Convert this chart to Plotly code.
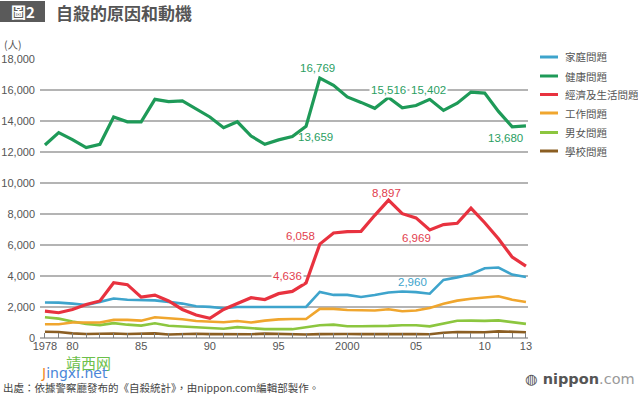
import plotly.graph_objects as go

years = list(range(1978, 2014))

family = [2290, 2280, 2220, 2130, 2330, 2550, 2470, 2470, 2430, 2330, 2220, 2050, 2010, 1920, 2000,
          2000, 2000, 2000, 2000, 2000, 2970, 2780, 2780, 2650, 2770, 2940, 3000, 2960, 2860,
          3751, 3912, 4117, 4497, 4547, 4091, 3930]
health = [12450, 13250, 12800, 12280, 12500, 14260, 13950, 13950, 15400, 15250, 15300, 14750, 14260,
          13570, 13950, 13030, 12500, 12780, 13000, 13659, 16769, 16300, 15550, 15200, 14820, 15516,
          14850, 15000, 15402, 14684, 15153, 15867, 15802, 14621, 13629, 13680]
economic = [1730, 1630, 1840, 2160, 2390, 3570, 3440, 2640, 2770, 2390, 1840, 1480, 1270, 1840, 2220,
            2600, 2480, 2860, 3010, 3556, 6058, 6775, 6860, 6880, 7915, 8897, 8020, 7750, 6969,
            7318, 7404, 8377, 7438, 6406, 5219, 4636]
work = [890, 890, 1000, 1000, 1000, 1170, 1170, 1120, 1335, 1270, 1210, 1100, 1060, 1020, 1100,
        1000, 1120, 1200, 1230, 1230, 1877, 1877, 1810, 1770, 1770, 1850, 1725, 1770, 1940,
        2207, 2412, 2528, 2590, 2689, 2472, 2323]
romance = [1335, 1250, 1060, 910, 830, 960, 860, 800, 950, 790, 740, 680, 640, 600, 700,
           630, 570, 570, 570, 690, 820, 860, 760, 760, 760, 780, 820, 820, 750,
           949, 1115, 1121, 1103, 1138, 1035, 912]
school = [400, 390, 300, 260, 270, 290, 260, 270, 300, 230, 260, 270, 250, 240, 260,
          240, 280, 260, 240, 230, 250, 270, 260, 250, 260, 280, 270, 260, 240,
          338, 387, 364, 371, 429, 417, 375]

names = ["家庭問題", "健康問題", "經濟及生活問題", "工作問題", "男女問題", "學校問題"]
colors = ["#3ea4cc", "#1e9a58", "#e8323f", "#f0a62e", "#8cc63f", "#8b5e22"]
label_colors = ["#3ea4cc", "#2a9e62", "#e23e4e", "#eaa030", "#8cc63f", "#9a7a40"]
series = [family, health, economic, work, romance, school]
widths = [2.6, 3.2, 3.2, 2.6, 2.6, 2.6]

tick_years = years
tick_text = ["1978" if y == 1978 else ("2000" if y == 2000 else
             (f"{y % 100:02d}" if (y % 5 == 0 or y == 2013) else "")) for y in years]

NUM_FONT = "Liberation Sans, Arial, sans-serif"
CJK_FONT = "Noto Sans CJK TC, Noto Sans CJK SC, sans-serif"

fig = go.Figure()
order = [5, 4, 3, 0, 2, 1]
for i in order:
    fig.add_trace(go.Scatter(x=years, y=series[i], mode="lines", name=names[i],
                             line=dict(color=colors[i], width=widths[i]),
                             showlegend=False, cliponaxis=False))

W, H = 638, 394
X0, X1 = 40, 528
Y0, Y1 = 59, 338
xr = [1977.64, 2013.15]


def px_to_year(p):
    return xr[0] + (p - X0) / (X1 - X0) * (xr[1] - xr[0])


def py_to_val(p):
    return (Y1 - p) / (Y1 - Y0) * 18000


def px(x):
    return (x - X0) / (X1 - X0)


def py(y):
    return (Y1 - y) / (Y1 - Y0)


ann = []


def add_val(text, x, y, color, anchor="center", bg=None):
    d = dict(x=px_to_year(x), y=py_to_val(y), xref="x", yref="y", text=text,
             showarrow=False, xanchor=anchor, yanchor="middle",
             font=dict(family=NUM_FONT, size=11.5, color=color))
    if bg:
        d["bgcolor"] = bg
        d["borderpad"] = 1
    ann.append(d)


add_val("16,769", 317, 68, label_colors[1])
add_val("13,659", 315, 137, label_colors[1])
add_val("15,516", 388, 90, label_colors[1], bg="white")
add_val("15,402", 428, 90, label_colors[1], bg="white")
add_val("13,680", 525, 138, label_colors[1], anchor="right")
add_val("6,058", 300, 236, label_colors[2])
add_val("4,636", 287, 276, label_colors[2], bg="white")
add_val("8,897", 386, 193, label_colors[2])
add_val("6,969", 416, 238, label_colors[2])
add_val("2,960", 412, 282, label_colors[0])
add_val("4,636", 557, 264, label_colors[2], anchor="right")
add_val("3,930", 557, 278, label_colors[0], anchor="right")
add_val("2,323", 557, 300, label_colors[3], anchor="right")
add_val("912", 557, 323, label_colors[4], anchor="right")
add_val("375", 557, 335, label_colors[5], anchor="right")

shapes = []
leg_y = [57, 76, 94.5, 113, 132.5, 151]
for i, yy in enumerate(leg_y):
    shapes.append(dict(type="line", xref="paper", yref="paper", x0=px(540), x1=px(558),
                       y0=py(yy), y1=py(yy), line=dict(color=colors[i], width=3)))
    ann.append(dict(x=px(563), y=py(yy), xref="paper", yref="paper", text=names[i],
                    showarrow=False, xanchor="left", yanchor="middle",
                    font=dict(family=CJK_FONT, size=10.5, color="#555555")))

shapes.append(dict(type="rect", xref="paper", yref="paper", x0=px(0), x1=px(45),
                   y0=py(22), y1=py(1), fillcolor="#5a5a5a", line=dict(width=0), layer="above"))
ann.append(dict(x=px(22.5), y=py(11.5), xref="paper", yref="paper", text="<b>圖2</b>",
                showarrow=False, xanchor="center", yanchor="middle",
                font=dict(family=CJK_FONT, size=15, color="white")))
ann.append(dict(x=px(54), y=py(12), xref="paper", yref="paper", text="<b>自殺的原因和動機</b>",
                showarrow=False, xanchor="left", yanchor="middle",
                font=dict(family=CJK_FONT, size=17, color="#555555")))
ann.append(dict(x=px(2), y=py(44), xref="paper", yref="paper", text="(人)",
                showarrow=False, xanchor="left", yanchor="middle",
                font=dict(family=CJK_FONT, size=10.5, color="#555555")))
ann.append(dict(x=px(1), y=py(387), xref="paper", yref="paper",
                text="出處：依據警察廳發布的《自殺統計》，由nippon.com編輯部製作。",
                showarrow=False, xanchor="left", yanchor="middle",
                font=dict(family=CJK_FONT, size=10.5, color="#444444")))
ann.append(dict(x=px(637), y=py(379), xref="paper", yref="paper",
                text="<b>◍ nippon</b><span style='color:#9a9a9a'>.com</span>",
                showarrow=False, xanchor="right", yanchor="middle",
                font=dict(family="DejaVu Sans, sans-serif", size=14.5, color="#555555")))
ann.append(dict(x=px(64), y=py(362), xref="paper", yref="paper", text="靖西网",
                showarrow=False, xanchor="left", yanchor="middle",
                font=dict(family=CJK_FONT, size=15, color="#6cc04a")))
ann.append(dict(x=px(39), y=py(373), xref="paper", yref="paper",
                text="<span style='color:#f08a24'>J</span>ingxi.net",
                showarrow=False, xanchor="left", yanchor="middle",
                font=dict(family="DejaVu Sans, sans-serif", size=14, color="#4a86d8")))

fig.update_layout(
    width=W, height=H,
    margin=dict(l=X0, r=W - X1, t=Y0, b=H - Y1, pad=0, autoexpand=False),
    paper_bgcolor="white", plot_bgcolor="white",
    showlegend=False,
    annotations=ann, shapes=shapes,
    xaxis=dict(range=xr, tickvals=tick_years, ticktext=tick_text, ticks="inside",
               ticklen=5, tickwidth=1, tickcolor="#808080", showgrid=False,
               showline=False, zeroline=False, automargin=False, layer="above traces",
               tickfont=dict(family=NUM_FONT, size=11, color="#555555")),
    yaxis=dict(range=[0, 18000], dtick=2000, tickformat=",d", showgrid=True,
               gridcolor="#b4b4b4", gridwidth=1.5, zeroline=True, zerolinecolor="#b4b4b4",
               zerolinewidth=1.5, showline=False, ticks="", ticklabelstandoff=4,
               automargin=False,
               tickfont=dict(family=NUM_FONT, size=11, color="#555555")),
)

fig.write_html("out.html", config={"displayModeBar": False},
               post_script="document.body.style.margin='0';document.body.style.overflow='hidden';")
